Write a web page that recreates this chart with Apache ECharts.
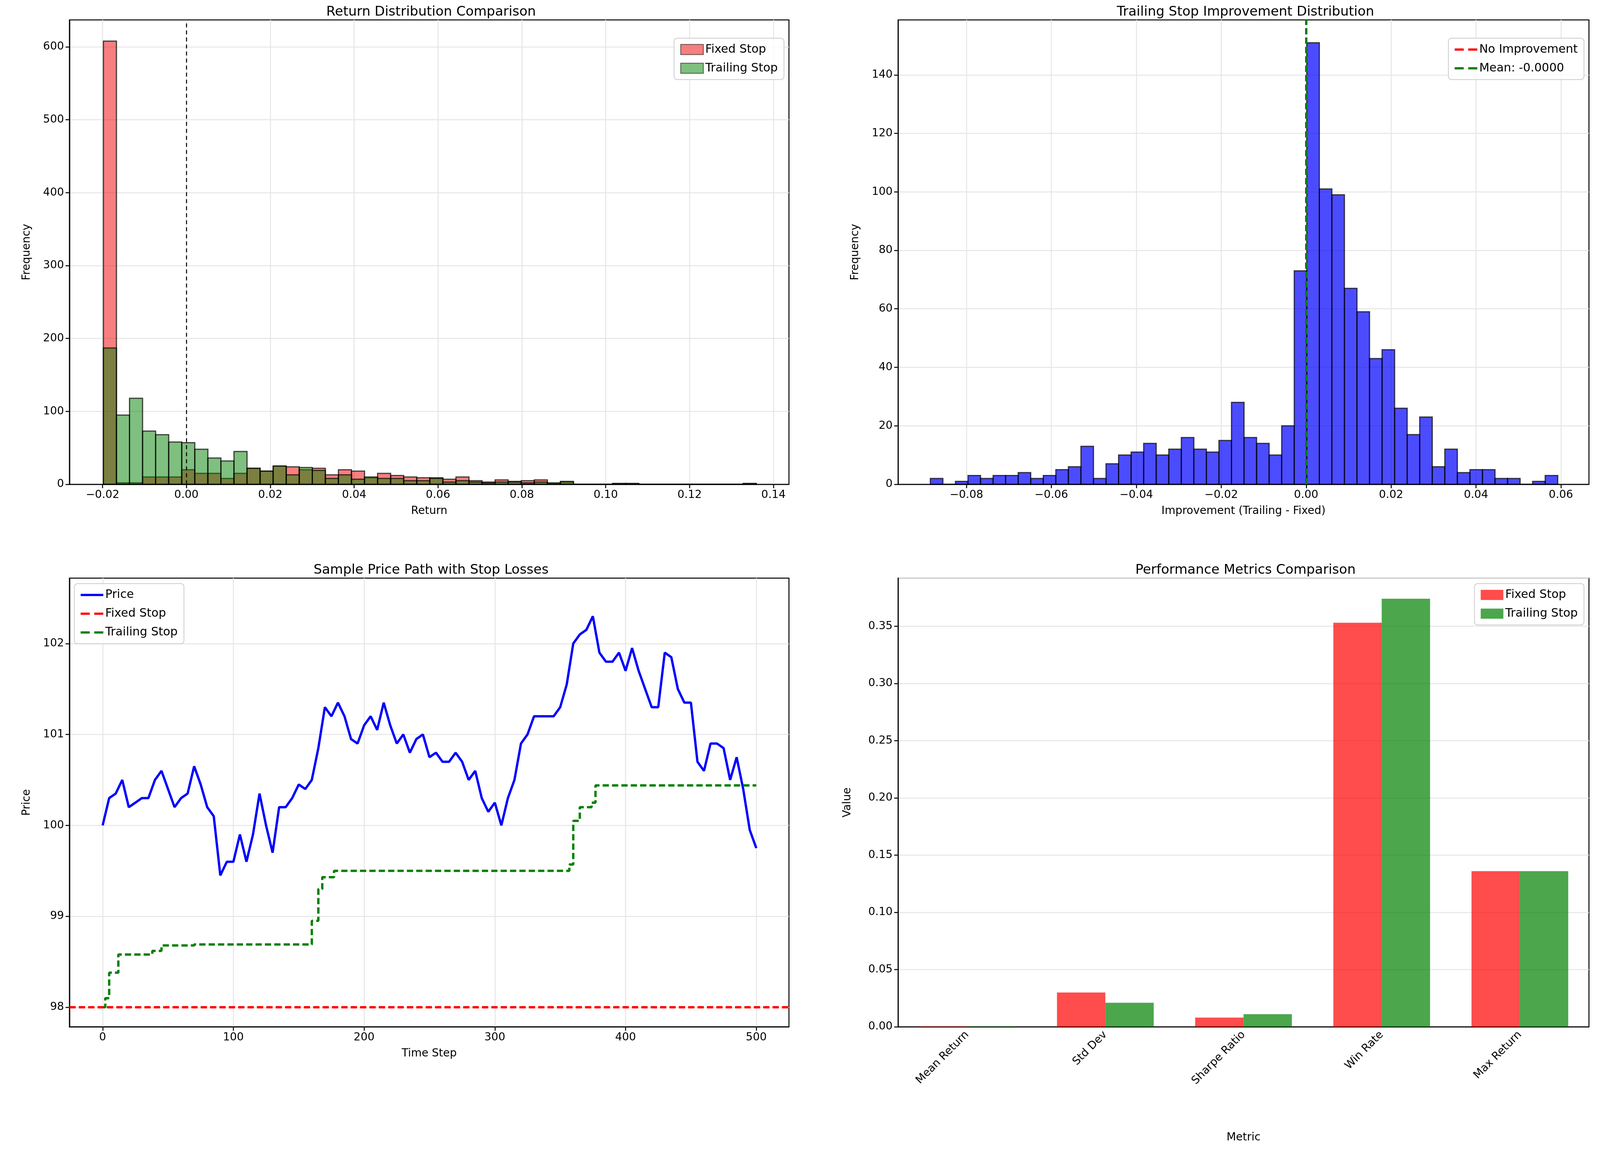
<!DOCTYPE html>
<html>
<head>
<meta charset="utf-8">
<script src="https://cdn.jsdelivr.net/npm/echarts@6/dist/echarts.min.js"></script>
<style>html,body{margin:0;padding:0;background:#fff;overflow:hidden}#chart{width:100vw;height:100vh}</style>
</head>
<body>
<div id="chart"></div>
<script>
// 收益分布直方图 (50 bins)
var retBinStart = -0.0198, retBinWidth = 0.003114;
var fixedCounts = [608,2,2,10,10,10,20,15,15,8,15,22,18,25,24,20,22,13,20,18,9,15,12,10,9,9,7,10,5,3,6,4,5,6,1,3,0,0,0,1,1,0,0,0,0,0,0,0,0,1];
var trailCounts = [187,95,118,73,68,58,57,48,36,32,45,22,18,25,13,23,19,8,13,7,10,8,8,5,5,8,3,5,3,2,3,3,2,3,2,4,0,0,0,1,1,0,0,0,0,0,0,0,0,1];

// 改进分布直方图
var impBinStart = -0.0885, impBinWidth = 0.002955;
var impCounts = [2,0,1,3,2,3,3,4,2,3,5,6,13,2,7,10,11,14,10,12,16,12,11,15,28,16,14,10,20,73,151,101,99,67,59,43,46,26,17,23,6,12,4,5,5,2,2,0,1,3];

// 价格路径 (每5步一个点)
var priceStep = 5;
var priceValues = [100.0,100.3,100.35,100.5,100.2,100.25,100.3,100.3,100.5,100.6,100.4,100.2,100.3,100.35,100.65,100.45,100.2,100.1,99.45,99.6,
  99.6,99.9,99.6,99.9,100.35,100.0,99.7,100.2,100.2,100.3,100.45,100.4,100.5,100.85,101.3,101.2,101.35,101.2,100.95,100.9,
  101.1,101.2,101.05,101.35,101.1,100.9,101.0,100.8,100.95,101.0,100.75,100.8,100.7,100.7,100.8,100.7,100.5,100.6,100.3,100.15,
  100.25,100.0,100.3,100.5,100.9,101.0,101.2,101.2,101.2,101.2,101.3,101.55,102.0,102.1,102.15,102.3,101.9,101.8,101.8,101.9,
  101.7,101.95,101.7,101.5,101.3,101.3,101.9,101.85,101.5,101.35,101.35,100.7,100.6,100.9,100.9,100.85,100.5,100.75,100.4,99.95,99.75];
var trailSteps = [0,2,5,12,38,45,70,157,160,165,168,177,355,357,360,365,374,377,500];
var trailLevels = [98.0,98.1,98.38,98.58,98.62,98.68,98.69,98.69,98.95,99.3,99.43,99.5,99.5,99.57,100.05,100.2,100.25,100.44,100.44];
var fixedStopLevel = 98;

// 指标对比
var metrics = ["Mean Return","Std Dev","Sharpe Ratio","Win Rate","Max Return"];
var fixedMetrics = [0.0004,0.030,0.008,0.353,0.136];
var trailMetrics = [0.0003,0.021,0.011,0.374,0.136];

// 刻度
var retTicks = [-0.02,0,0.02,0.04,0.06,0.08,0.10,0.12,0.14];
var freqTicks1 = [0,100,200,300,400,500,600];
var impTicks = [-0.08,-0.06,-0.04,-0.02,0,0.02,0.04,0.06];
var freqTicks2 = [0,20,40,60,80,100,120,140];
var timeTicks = [0,100,200,300,400,500];
var priceTicks = [98,99,100,101,102];

var FONT = "DejaVu Sans";
var TXT = {fontFamily: FONT, fontSize: 28, color: "#000"};
var chartDom = document.getElementById("chart");
var myChart = echarts.init(chartDom);

function hist(start, width, counts) {
  return counts.map(function (c, i) {
    return [start + width * i, start + width * (i + 1), c];
  });
}
function histSeries(name, xi, data, fill) {
  return {
    name: name, type: "custom", xAxisIndex: xi, yAxisIndex: xi,
    encode: {x: [0, 1], y: 2}, data: data,
    renderItem: function (params, api) {
      var a = api.coord([api.value(0), api.value(2)]);
      var b = api.coord([api.value(1), 0]);
      return {type: "rect", shape: {x: a[0], y: a[1], width: b[0] - a[0], height: b[1] - a[1]},
        style: {fill: fill, stroke: "rgba(0,0,0,0.7)", lineWidth: 3}};
    }
  };
}
function valAxis(gi, min, max, ticks, name, gap, fmt) {
  return {
    type: "value", gridIndex: gi, min: min, max: max,
    name: name, nameLocation: "middle", nameGap: gap, nameTextStyle: {fontFamily: FONT, fontSize: 28, color: "#000"},
    axisLine: {onZero: false, lineStyle: {color: "#000", width: 2.5}},
    axisTick: {show: true, customValues: ticks, length: 10, lineStyle: {color: "#000", width: 2.5}},
    axisLabel: Object.assign({customValues: ticks, formatter: fmt, margin: 14}, TXT),
    splitLine: {show: true, lineStyle: {color: "#e6e6e6", width: 2.5}}
  };
}
var f2 = function (v) { return (v < 0 ? "\u2212" : "") + Math.abs(v).toFixed(2); };
var f0 = function (v) { return String(v); };

var grids = [
  {left: "4.34%", top: "1.72%", width: "44.97%", height: "40.1%"},
  {left: "56.13%", top: "1.72%", width: "43.18%", height: "40.1%"},
  {left: "4.34%", top: "49.92%", width: "44.97%", height: "38.75%"},
  {left: "56.13%", top: "49.92%", width: "43.18%", height: "38.75%"}
];
grids.forEach(function (g) { g.show = true; g.borderColor = "#000"; g.borderWidth = 2.5; g.backgroundColor = "transparent"; });

function title(text, cx, top) {
  return {text: text, left: cx, top: top, textAlign: "center",
    textStyle: {fontFamily: FONT, fontSize: 34, fontWeight: "normal", color: "#000"}};
}
var legendBase = {orient: "vertical", backgroundColor: "rgba(255,255,255,0.8)", borderColor: "#ccc", borderWidth: 2,
  borderRadius: 8, padding: [14, 16], itemGap: 18, itemWidth: 58, itemHeight: 26,
  textStyle: {fontFamily: FONT, fontSize: 30, color: "#000"}};

var option = {
  animation: false,
  title: [
    title("Return Distribution Comparison", "26.82%", "0.3%"),
    title("Trailing Stop Improvement Distribution", "77.72%", "0.3%"),
    title("Sample Price Path with Stop Losses", "26.82%", "48.5%"),
    title("Performance Metrics Comparison", "77.72%", "48.5%")
  ],
  grid: grids,
  legend: [
    Object.assign({}, legendBase, {right: "51.0%", top: "3.3%", data: [
      {name: "Fixed Stop", icon: "rect", itemStyle: {color: "rgba(240,0,0,0.5)", borderColor: "rgba(0,0,0,0.6)", borderWidth: 2}},
      {name: "Trailing Stop", icon: "rect", itemStyle: {color: "rgba(0,128,0,0.5)", borderColor: "rgba(0,0,0,0.6)", borderWidth: 2}}]}),
    Object.assign({}, legendBase, {right: "1.0%", top: "3.3%", data: [
      {name: "No Improvement", icon: "path://M0,0h4v1h-4zM6,0h4v1h-4z"},
      {name: "Mean: -0.0000", icon: "path://M0,0h4v1h-4zM6,0h4v1h-4z"}]}),
    Object.assign({}, legendBase, {left: "4.65%", top: "50.4%", data: [
      {name: "Price", icon: "path://M0,0h10v1h-10z"},
      {name: "Fixed Stop ", icon: "path://M0,0h4v1h-4zM6,0h4v1h-4z"},
      {name: "Trailing Stop ", icon: "path://M0,0h4v1h-4zM6,0h4v1h-4z"}],
      formatter: function (n) { return n.trim(); }}),
    Object.assign({}, legendBase, {right: "1.0%", top: "50.4%", data: [
      {name: "Fixed Stop  ", icon: "rect"}, {name: "Trailing Stop  ", icon: "rect"}],
      formatter: function (n) { return n.trim(); }})
  ],
  xAxis: [
    valAxis(0, -0.0279, 0.1437, retTicks, "Return", 55, f2),
    valAxis(1, -0.0961, 0.0666, impTicks, "Improvement (Trailing - Fixed)", 55, f2),
    valAxis(2, -25.4, 525, timeTicks, "Time Step", 55, f0),
    {type: "category", gridIndex: 3, data: metrics, name: "Metric", nameLocation: "middle", nameGap: 270,
      nameTextStyle: {fontFamily: FONT, fontSize: 28, color: "#000"},
      axisLine: {lineStyle: {color: "#000", width: 2.5}},
      axisTick: {alignWithLabel: true, length: 10, lineStyle: {color: "#000", width: 2.5}},
      axisLabel: Object.assign({rotate: 45, margin: 16, interval: 0}, TXT),
      splitLine: {show: false}}
  ],
  yAxis: [
    valAxis(0, 0, 637, freqTicks1, "Frequency", 95, f0),
    valAxis(1, 0, 158.8, freqTicks2, "Frequency", 95, f0),
    valAxis(2, 97.785, 102.72, priceTicks, "Price", 95, f0),
    {type: "value", gridIndex: 3, min: 0, max: 0.392, interval: 0.05,
      name: "Value", nameLocation: "middle", nameGap: 115, nameTextStyle: {fontFamily: FONT, fontSize: 28, color: "#000"},
      axisLine: {show: true, lineStyle: {color: "#000", width: 2.5}},
      axisTick: {show: true, length: 10, lineStyle: {color: "#000", width: 2.5}},
      axisLabel: Object.assign({formatter: function (v) { return v.toFixed(2); }, margin: 14, showMaxLabel: false}, TXT),
      splitLine: {show: true, lineStyle: {color: "#e6e6e6", width: 2.5}}}
  ],
  series: [
    histSeries("Fixed Stop", 0, hist(retBinStart, retBinWidth, fixedCounts), "rgba(240,0,0,0.5)"),
    histSeries("Trailing Stop", 0, hist(retBinStart, retBinWidth, trailCounts), "rgba(0,128,0,0.5)"),
    {type: "line", xAxisIndex: 0, yAxisIndex: 0, data: [], silent: true,
      markLine: {symbol: "none", silent: true, label: {show: false},
        lineStyle: {color: "#000", type: [10, 8], width: 2.5}, data: [{xAxis: 0}]}},
    histSeries("Improvement", 1, hist(impBinStart, impBinWidth, impCounts), "rgba(0,0,255,0.7)"),
    {name: "No Improvement", type: "line", xAxisIndex: 1, yAxisIndex: 1, data: [], color: "#ff0000",
      lineStyle: {width: 6, type: [16, 8]},
      markLine: {symbol: "none", silent: true, label: {show: false},
        lineStyle: {color: "#ff0000", type: [16, 8], width: 6}, data: [{xAxis: 0}]}},
    {name: "Mean: -0.0000", type: "line", xAxisIndex: 1, yAxisIndex: 1, data: [], color: "#008000",
      lineStyle: {width: 6, type: [16, 8]},
      markLine: {symbol: "none", silent: true, label: {show: false},
        lineStyle: {color: "#008000", type: [16, 8], width: 6}, data: [{xAxis: -0.00002}]}},
    {name: "Price", type: "line", xAxisIndex: 2, yAxisIndex: 2, showSymbol: false, color: "#0000ff",
      lineStyle: {width: 6}, data: priceValues.map(function (p, i) { return [i * priceStep, p]; })},
    {name: "Fixed Stop ", type: "line", xAxisIndex: 2, yAxisIndex: 2, data: [], color: "#ff0000",
      lineStyle: {width: 6, type: [16, 8]},
      markLine: {symbol: "none", silent: true, label: {show: false},
        lineStyle: {color: "#ff0000", type: [16, 8], width: 6}, data: [{yAxis: fixedStopLevel}]}},
    {name: "Trailing Stop ", type: "line", xAxisIndex: 2, yAxisIndex: 2, showSymbol: false, step: "end", color: "#008000",
      lineStyle: {width: 6, type: [16, 8]}, data: trailSteps.map(function (t, i) { return [t, trailLevels[i]]; })},
    {name: "Fixed Stop  ", type: "bar", xAxisIndex: 3, yAxisIndex: 3, data: fixedMetrics, barWidth: "35%", barGap: "0%",
      itemStyle: {color: "rgba(255,0,0,0.7)"}, color: "rgba(255,0,0,0.7)"},
    {name: "Trailing Stop  ", type: "bar", xAxisIndex: 3, yAxisIndex: 3, data: trailMetrics, barWidth: "35%",
      itemStyle: {color: "rgba(0,128,0,0.7)"}, color: "rgba(0,128,0,0.7)"}
  ]
};
myChart.setOption(option);
window.addEventListener("resize", function () { myChart.resize(); });
</script>
</body>
</html>
